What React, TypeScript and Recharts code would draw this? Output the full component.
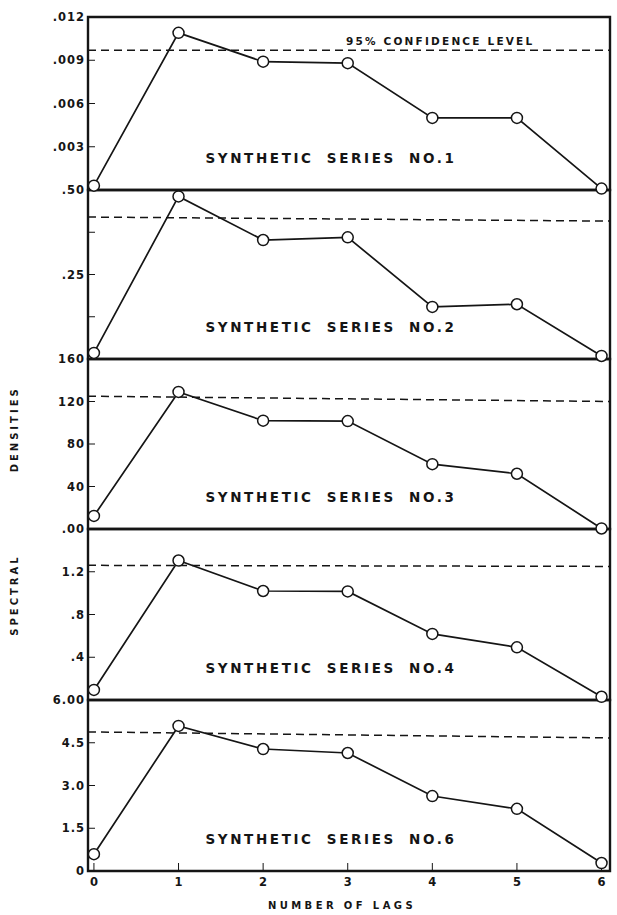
import React from "react";
import { LineChart, Line, XAxis, YAxis, ReferenceArea, ReferenceLine } from "recharts";

const LAGS = [0, 1, 2, 3, 4, 5, 6];
const LAG_DOMAIN: [number, number] = [-0.07, 6.1];

// spectral densities, one array per synthetic series
const SERIES_1 = [0.0003, 0.0109, 0.0089, 0.0088, 0.005, 0.005, 0.0001];
const SERIES_2 = [0.018, 0.481, 0.352, 0.36, 0.154, 0.162, 0.009];
const SERIES_3 = [12.3, 129, 102, 101.6, 61, 52, 0.5];
const SERIES_4 = [0.094, 1.305, 1.02, 1.016, 0.618, 0.493, 0.03];
const SERIES_6 = [0.59, 5.09, 4.28, 4.14, 2.63, 2.18, 0.28];

// 95% confidence level, value at left and right edge
const CONF_1 = [0.0097, 0.0097];
const CONF_2 = [0.42, 0.408];
const CONF_3 = [125, 120];
const CONF_4 = [1.26, 1.25];
const CONF_6 = [4.88, 4.67];

const TICKS_1 = [0, 0.003, 0.006, 0.009, 0.012];
const LABELS_1 = ["", ".003", ".006", ".009", ".012"];
const TICKS_2 = [0, 0.125, 0.25, 0.375, 0.5];
const LABELS_2 = ["", "", ".25", "", ".50"];
const TICKS_3 = [0, 40, 80, 120, 160];
const LABELS_3 = ["", "40", "80", "120", "160"];
const TICKS_4 = [0, 0.4, 0.8, 1.2, 1.6];
const LABELS_4 = ["", ".4", ".8", "1.2", ".00"];
const TICKS_6 = [0, 1.5, 3, 4.5, 6];
const LABELS_6 = ["0", "1.5", "3.0", "4.5", "6.00"];

const TITLES = [
  "SYNTHETIC SERIES NO.1",
  "SYNTHETIC SERIES NO.2",
  "SYNTHETIC SERIES NO.3",
  "SYNTHETIC SERIES NO.4",
  "SYNTHETIC SERIES NO.6",
];

const INK = "#151515";
const FONT = "'DejaVu Sans', sans-serif";

// layout: plot top / height of each stacked panel
const PANEL_TOPS = [17, 190, 359, 529, 700];
const PANEL_HEIGHTS = [173, 169, 170, 171, 171];

interface PanelProps {
  values: number[];
  conf: number[];
  ticks: number[];
  labels: string[];
  title: string;
  top: number;
  plotHeight: number;
  last: boolean;
  z: number;
}

function Panel({ values, conf, ticks, labels, title, top, plotHeight, last, z }: PanelProps) {
  const data = LAGS.map((lag, i) => ({ lag, v: values[i] }));
  const max = ticks[ticks.length - 1];
  const bottomSpace = last ? 44 : 10;
  const fmt = (v: number) => labels[ticks.indexOf(v)] ?? "";

  return (
    <div style={{ position: "absolute", left: 0, top: top - 10, zIndex: z }}>
      <LineChart
        width={617}
        height={plotHeight + 10 + bottomSpace}
        data={data}
        margin={{ top: 10, right: 0, bottom: last ? 0 : 10, left: 0 }}
      >
        <XAxis
          dataKey="lag"
          type="number"
          domain={LAG_DOMAIN}
          ticks={LAGS}
          interval={0}
          hide={!last}
          height={44}
          axisLine={false}
          tickSize={-8}
          tickMargin={15}
          stroke={INK}
          tick={{ fontSize: 11.5, fill: INK, fontFamily: FONT, fontWeight: 600 }}
        />
        <YAxis
          domain={[0, max]}
          ticks={ticks}
          interval={0}
          width={88}
          axisLine={false}
          tickSize={-7}
          tickMargin={10}
          stroke={INK}
          tickFormatter={fmt}
          tick={{ fontSize: 11.5, fill: INK, fontFamily: FONT, fontWeight: 600, letterSpacing: 1 }}
        />
        <YAxis
          yAxisId="r"
          orientation="right"
          domain={[0, max]}
          ticks={ticks}
          interval={0}
          width={7}
          axisLine={false}
          tick={false}
          tickSize={-7}
          stroke={INK}
        />
        <ReferenceArea
          x1={LAG_DOMAIN[0]}
          x2={LAG_DOMAIN[1]}
          y1={0}
          y2={max}
          fill="none"
          stroke={INK}
          strokeWidth={2.4}
        />
        <ReferenceLine
          segment={[
            { x: LAG_DOMAIN[0], y: conf[0] },
            { x: LAG_DOMAIN[1], y: conf[1] },
          ]}
          stroke={INK}
          strokeWidth={1.5}
          strokeDasharray="8 5"
        />
        <Line
          type="linear"
          dataKey="v"
          stroke={INK}
          strokeWidth={1.7}
          dot={{ r: 5.5, fill: "#fff", stroke: INK, strokeWidth: 1.5 }}
          isAnimationActive={false}
        />
      </LineChart>
      <div
        style={{
          position: "absolute",
          left: 131,
          width: 400,
          top: 10 + plotHeight - 32 - 9,
          height: 18,
          lineHeight: "18px",
          textAlign: "center",
          fontFamily: FONT,
          fontSize: 13.5,
          fontWeight: 600,
          letterSpacing: 2.6,
          wordSpacing: 6,
          color: INK,
          whiteSpace: "nowrap",
        }}
      >
        {title}
      </div>
    </div>
  );
}

export default function App() {
  const series = [SERIES_1, SERIES_2, SERIES_3, SERIES_4, SERIES_6];
  const confs = [CONF_1, CONF_2, CONF_3, CONF_4, CONF_6];
  const ticks = [TICKS_1, TICKS_2, TICKS_3, TICKS_4, TICKS_6];
  const labels = [LABELS_1, LABELS_2, LABELS_3, LABELS_4, LABELS_6];

  return (
    <div style={{ position: "absolute", left: 0, top: 0, width: 617, height: 915, background: "#fff" }}>
      {series.map((s, i) => (
        <Panel
          key={i}
          values={s}
          conf={confs[i]}
          ticks={ticks[i]}
          labels={labels[i]}
          title={TITLES[i]}
          top={PANEL_TOPS[i]}
          plotHeight={PANEL_HEIGHTS[i]}
          last={i === series.length - 1}
          z={10 - i}
        />
      ))}
      <div
        style={{
          position: "absolute",
          left: 346,
          top: 35,
          zIndex: 20,
          fontFamily: FONT,
          fontSize: 10.5,
          fontWeight: 600,
          letterSpacing: 2.2,
          color: INK,
          whiteSpace: "nowrap",
        }}
      >
        95% CONFIDENCE LEVEL
      </div>
      <div
        style={{
          position: "absolute",
          left: 15 - 130,
          top: 511 - 8,
          width: 260,
          height: 16,
          lineHeight: "16px",
          textAlign: "center",
          transform: "rotate(-90deg)",
          fontFamily: FONT,
          fontSize: 10,
          fontWeight: 600,
          letterSpacing: 3,
          color: INK,
          whiteSpace: "nowrap",
        }}
      >
        <span>SPECTRAL</span>
        <span style={{ marginLeft: 82 }}>DENSITIES</span>
      </div>
      <div
        style={{
          position: "absolute",
          left: 342 - 100,
          width: 200,
          top: 900,
          textAlign: "center",
          fontFamily: FONT,
          fontSize: 10,
          fontWeight: 600,
          letterSpacing: 3.4,
          color: INK,
          whiteSpace: "nowrap",
        }}
      >
        NUMBER OF LAGS
      </div>
    </div>
  );
}
